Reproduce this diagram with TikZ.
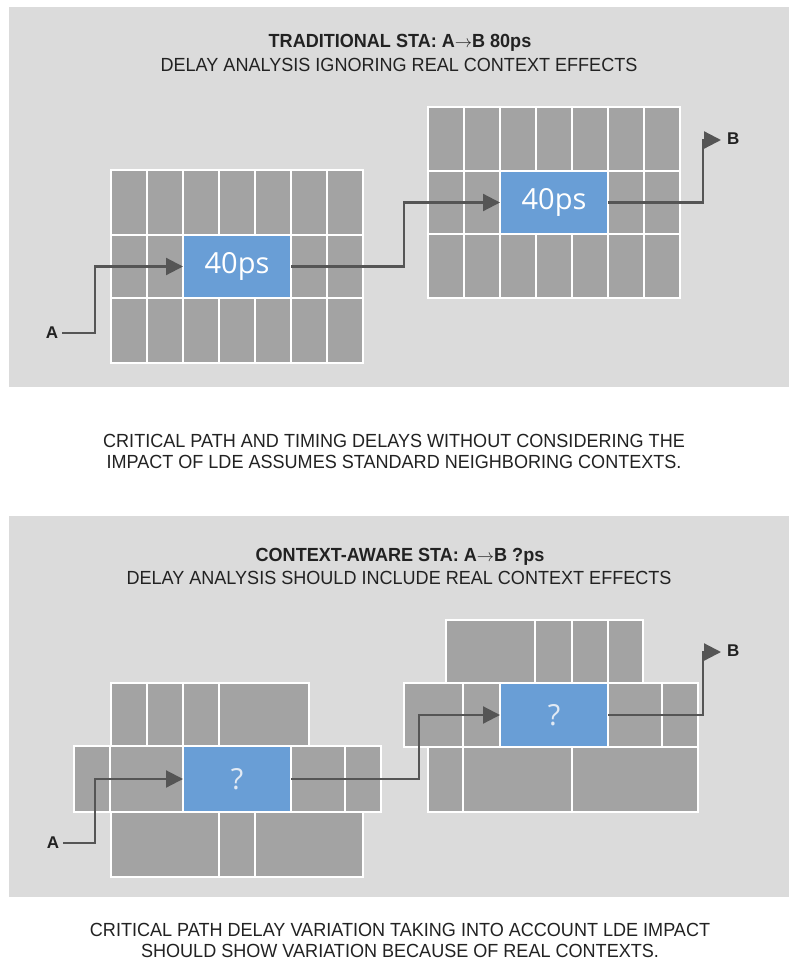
\documentclass[tikz,border=0pt]{standalone}
\usepackage{fontspec}
\setmainfont{Liberation Sans}
\newfontfamily\condfont{Liberation Sans}[FakeStretch=0.95]
\newfontfamily\cellfont{Open Sans}
\usetikzlibrary{arrows.meta}
\definecolor{panelgray}{HTML}{DBDBDB}
\definecolor{cellgray}{HTML}{A3A3A3}
\definecolor{cellblue}{HTML}{699ED6}
\definecolor{wire}{HTML}{555555}
\definecolor{txt}{HTML}{222222}
\definecolor{qcol}{HTML}{E2EAF4}
\begin{document}
\begin{tikzpicture}[x=1pt,y=-1pt,
  cell/.style={fill=cellgray, draw=white, line width=2.2pt},
  bluecell/.style={fill=cellblue, draw=white, line width=2.2pt, inner sep=0pt, outer sep=0pt,
    text=white, font=\cellfont\fontsize{29}{29}\selectfont},
  wirepath/.style={draw=wire, line width=2.2pt, -{Triangle[length=17pt,width=17pt]}},
  lbl/.style={font=\bfseries\fontsize{17}{17}\selectfont, text=txt, inner sep=0pt},
  ttl/.style={font=\condfont\bfseries\fontsize{19}{21}\selectfont, text=txt, inner sep=0pt},
  sub/.style={font=\condfont\fontsize{19}{21}\selectfont, text=txt, inner sep=0pt},
  capt/.style={font=\condfont\fontsize{19}{21}\selectfont, text=txt, inner sep=0pt, align=center}]
\useasboundingbox (0,0) rectangle (789,960);
\fill[white] (0,0) rectangle (789,960);
\fill[panelgray] (9,7) rectangle (789,387);
\fill[panelgray] (9,516) rectangle (789,897);

% ---------- panel 1, left grid
\foreach \ya/\yb in {170/235, 298/363}
  \foreach \i in {0,...,6}
    \path[cell] ({111+36*\i},\ya) rectangle ({147+36*\i},\yb);
\foreach \xa in {111,147,291,327}
  \path[cell] (\xa,235) rectangle ({\xa+36},298);
% ---------- panel 1, right grid
\foreach \ya/\yb in {107/171, 234/298}
  \foreach \i in {0,...,6}
    \path[cell] ({428+36*\i},\ya) rectangle ({464+36*\i},\yb);
\foreach \xa in {428,464,608,644}
  \path[cell] (\xa,171) rectangle ({\xa+36},234);

\node[bluecell, minimum width=108pt, minimum height=63pt] (b1) at (237,266.5) {40ps};
\node[bluecell, minimum width=108pt, minimum height=63pt] (b2) at (554,202.5) {40ps};

% ---------- panel 2, left cluster
\path[cell] (111,683) rectangle (147,746);
\path[cell] (147,683) rectangle (183,746);
\path[cell] (183,683) rectangle (219,746);
\path[cell] (219,683) rectangle (309,746);
\path[cell] (74,746) rectangle (110,812);
\path[cell] (110,746) rectangle (183,812);
\path[cell] (291,746) rectangle (345,812);
\path[cell] (345,746) rectangle (381,812);
\path[cell] (111,812) rectangle (219,877);
\path[cell] (219,812) rectangle (255,877);
\path[cell] (255,812) rectangle (363,877);
% ---------- panel 2, right cluster
\path[cell] (446,620) rectangle (535,683);
\path[cell] (535,620) rectangle (572,683);
\path[cell] (572,620) rectangle (608,683);
\path[cell] (608,620) rectangle (643,683);
\path[cell] (404,683) rectangle (463,747);
\path[cell] (463,683) rectangle (500,747);
\path[cell] (608,683) rectangle (662,747);
\path[cell] (662,683) rectangle (698,747);
\path[cell] (428,747) rectangle (463,812);
\path[cell] (463,747) rectangle (572,812);
\path[cell] (572,747) rectangle (698,812);

\node[bluecell, text=qcol, minimum width=108pt, minimum height=66pt] (b3) at (237,779) {?};
\node[bluecell, text=qcol, minimum width=108pt, minimum height=64pt] (b4) at (554,715) {?};

% ---------- labels
\node[lbl] (A1) at (52,333) {A};
\node[lbl, anchor=west] (B1) at (727,139) {B};
\node[lbl] (A2) at (53,843) {A};
\node[lbl, anchor=west] (B2) at (727,651) {B};
\coordinate (k1) at (95,0);
\coordinate (k2) at (404,0);
\coordinate (k3) at (703,0);
\coordinate (k4) at (419,0);
\coordinate (tipB1) at (721,140);
\coordinate (tipB2) at (721,652);

% ---------- connectors
\draw[wirepath, shorten <=4pt] (A1.east) -| (k1 |- b1.west) -- (b1.west);
\draw[wirepath] (b1.east) -| (k2 |- b2.west) -- (b2.west);
\draw[wirepath] (b2.east) -| (k3 |- tipB1) -- (tipB1);
\draw[wirepath, shorten <=4pt] (A2.east) -| (k1 |- b3.west) -- (b3.west);
\draw[wirepath] (b3.east) -| (k4 |- b4.west) -- (b4.west);
\draw[wirepath] (b4.east) -| (k3 |- tipB2) -- (tipB2);

% ---------- texts
\node[ttl] (title1) at (400,43) {TRADITIONAL STA: A$\rightarrow$B 80ps};
\node[sub] (sub1) at (399,65) {DELAY ANALYSIS IGNORING REAL CONTEXT EFFECTS};
\node[capt] (cap1) at (394,451) {CRITICAL PATH AND TIMING DELAYS WITHOUT CONSIDERING THE\\IMPACT OF LDE ASSUMES STANDARD NEIGHBORING CONTEXTS.};
\node[ttl] (title2) at (400,557) {CONTEXT-AWARE STA: A$\rightarrow$B ?ps};
\node[sub] (sub2) at (399,578) {DELAY ANALYSIS SHOULD INCLUDE REAL CONTEXT EFFECTS};
\node[capt] (cap2) at (400,940.5) {CRITICAL PATH DELAY VARIATION TAKING INTO ACCOUNT LDE IMPACT\\SHOULD SHOW VARIATION BECAUSE OF REAL CONTEXTS.};
\end{tikzpicture}
\end{document}
